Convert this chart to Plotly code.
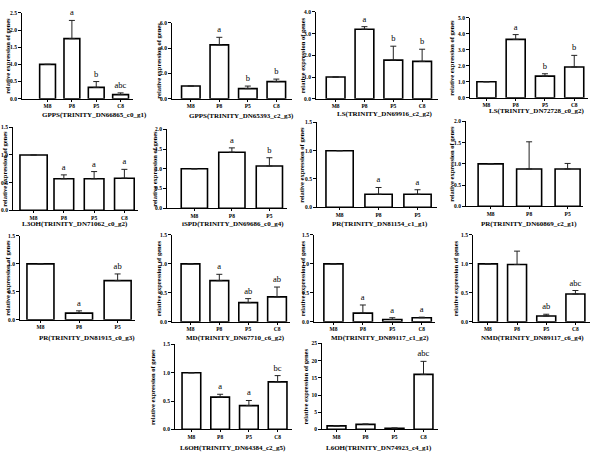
import plotly.graph_objects as go

cats4 = ["M8", "P8", "P5", "C8"]
cats3 = ["M8", "P8", "P5"]

titles = [
    "GPPS(TRINITY_DN66865_c0_g1)", "GPPS(TRINITY_DN65393_c2_g3)",
    "LS(TRINITY_DN69916_c2_g2)", "LS(TRINITY_DN72728_c0_g2)",
    "L3OH(TRINITY_DN71062_c0_g2)", "iSPD(TRINITY_DN69686_c0_g4)",
    "PR(TRINITY_DN81154_c1_g1)", "PR(TRINITY_DN60869_c2_g1)",
    "PR(TRINITY_DN81915_c0_g3)", "MD(TRINITY_DN67710_c6_g2)",
    "MD(TRINITY_DN89117_c1_g2)", "NMD(TRINITY_DN89117_c6_g4)",
    "L6OH(TRINITY_DN64384_c2_g5)", "L6OH(TRINITY_DN74923_c4_g1)",
]
categories = [cats4, cats4, cats4, cats4, cats4, cats3, cats3, cats3,
              cats3, cats4, cats4, cats4, cats4, cats4]
means = [
    [1.0, 1.75, 0.33, 0.12], [1.0, 4.25, 0.80, 1.35],
    [1.0, 3.20, 1.78, 1.72], [1.0, 3.65, 1.35, 1.92],
    [1.0, 0.57, 0.57, 0.58], [1.0, 1.42, 1.07],
    [1.0, 0.23, 0.23], [1.0, 0.88, 0.88],
    [1.0, 0.12, 0.70], [1.0, 0.71, 0.33, 0.43],
    [1.0, 0.15, 0.04, 0.07], [1.0, 0.99, 0.10, 0.48],
    [1.0, 0.57, 0.42, 0.84], [1.0, 1.45, 0.30, 16.0],
]
errors = [
    [0, 0.53, 0.17, 0.05], [0, 0.60, 0.20, 0.20],
    [0, 0.12, 0.64, 0.56], [0, 0.30, 0.15, 0.73],
    [0, 0.07, 0.13, 0.16], [0, 0.11, 0.21],
    [0, 0.12, 0.08], [0, 0.64, 0.13],
    [0, 0.04, 0.12], [0, 0.11, 0.07, 0.17],
    [0, 0.14, 0.03, 0.01], [0, 0.23, 0.03, 0.06],
    [0, 0.05, 0.09, 0.11], [0, 0.10, 0.10, 3.8],
]
letters = [
    ["", "a", "b", "abc"], ["", "a", "b", "b"],
    ["", "a", "b", "b"], ["", "a", "b", "b"],
    ["", "a", "a", "a"], ["", "a", "b"],
    ["", "a", "a"], ["", "", ""],
    ["", "a", "ab"], ["", "a", "ab", "ab"],
    ["", "a", "a", "a"], ["", "", "ab", "abc"],
    ["", "a", "a", "bc"], ["", "", "", "abc"],
]
ymax = [2.5, 6, 4, 5, 1.5, 2, 1.5, 2, 1.5, 1.5, 1.5, 1.5, 1.5, 25]
ydtick = [0.5, 2, 1, 1, 0.5, 0.5, 0.5, 0.5, 0.5, 0.5, 0.5, 0.5, 0.5, 5]
ylabel = "relative expression of genes"

# geometry in pixels: x0, x1, ytop, ybottom, xrange a, b
W, H = 600, 459
geom = [
    (22, 133, 10, 97, -1.05, 3.51), (172, 292, 20, 97, -0.66, 3.55),
    (316, 438, 9, 97, -0.68, 3.55), (470, 588, 15, 96, -0.56, 3.47),
    (13, 138, 126, 210, -0.68, 3.45), (167, 287, 128, 208, -0.73, 2.47),
    (317, 437, 121, 207, -0.58, 2.5), (466, 583, 120, 206, -0.64, 2.4),
    (20, 135, 236, 321, -0.53, 2.45), (172, 290, 235, 323, -0.64, 3.45),
    (314, 435, 235, 323, -0.66, 3.45), (473, 590, 235, 323, -0.51, 3.5),
    (175, 292, 346, 432, -0.57, 3.5), (322, 438, 345, 432, -0.5, 3.5),
]
title_pos = [(94, 113), (241, 114), (385, 112), (537, 109),
             (75, 224), (233, 224), (380, 224), (529, 224),
             (87, 339), (235, 339), (380, 339), (532, 339),
             (233, 451), (379, 451)]
ylab_x = [8, 159, 302, 452, 5, 155, 302, 452, 8, 158, 302, 455, 153, 305]
bar_widths = [0.65] * 14
bar_widths[5] = bar_widths[6] = bar_widths[8] = 0.7

FONT = "Liberation Serif"
fig = go.Figure()
layout = dict(width=W, height=H, margin=dict(l=0, r=0, t=0, b=0),
              plot_bgcolor="white", paper_bgcolor="white",
              showlegend=False, annotations=[], barmode="overlay")

for i in range(14):
    n = i + 1
    xa = "x" if n == 1 else f"x{n}"
    ya = "y" if n == 1 else f"y{n}"
    cats = categories[i]
    idx = list(range(len(cats)))
    w = [bar_widths[i]] * len(cats)
    if i == 4:
        w[0] = 0.9
    fig.add_trace(go.Bar(
        x=idx, y=means[i], width=w, xaxis=xa, yaxis=ya,
        marker=dict(color="white", line=dict(color="black", width=1.6)),
        error_y=dict(type="data", symmetric=False, array=errors[i],
                     arrayminus=[0] * len(cats), color="#222",
                     thickness=1, width=3),
    ))
    tops = [m + e for m, e in zip(means[i], errors[i])]
    fig.add_trace(go.Bar(
        x=idx, y=tops, width=w, xaxis=xa, yaxis=ya,
        marker=dict(color="rgba(0,0,0,0)", line=dict(width=0)),
        text=letters[i], textposition="outside", constraintext="none",
        cliponaxis=False, hoverinfo="skip",
        outsidetextfont=dict(family=FONT, size=8.5, color="black"),
    ))
    x0, x1, yt, yb, a, b = geom[i]
    axkey_x = "xaxis" if n == 1 else f"xaxis{n}"
    axkey_y = "yaxis" if n == 1 else f"yaxis{n}"
    layout[axkey_x] = dict(
        domain=[x0 / W, x1 / W], anchor=ya, range=[a, b],
        tickmode="array", tickvals=idx, ticktext=[f"<b>{c}</b>" for c in cats],
        ticks="outside", ticklen=2, tickwidth=1, tickcolor="black",
        showline=True, linecolor="black", linewidth=1, showgrid=False,
        zeroline=False, tickfont=dict(family=FONT, size=5.5, color="black"),
    )
    dec = ".0f" if ydtick[i] >= 5 else ".1f"
    layout[axkey_y] = dict(
        domain=[1 - yb / H, 1 - yt / H], anchor=xa, range=[0, ymax[i]],
        dtick=ydtick[i], tick0=0, tickformat=dec,
        ticks="outside", ticklen=3, tickwidth=1, tickcolor="black",
        showline=True, linecolor="black", linewidth=1, showgrid=False,
        zeroline=False, tickfont=dict(family=FONT, size=5.5, color="black", weight="bold"),
    )
    tx, ty = title_pos[i]
    layout["annotations"].append(dict(
        x=tx / W, y=1 - ty / H, xref="paper", yref="paper",
        text=f"<b>{titles[i]}</b>", showarrow=False,
        xanchor="center", yanchor="middle",
        font=dict(family=FONT, size=7, color="black"),
    ))
    layout["annotations"].append(dict(
        x=ylab_x[i] / W, y=1 - ((yt + yb) / 2) / H, xref="paper", yref="paper",
        text=f"<b>{ylabel}</b>", showarrow=False, textangle=-90,
        xanchor="center", yanchor="middle",
        font=dict(family=FONT, size=6.5, color="black"),
    ))

fig.update_layout(**layout)
fig.write_html("out.html")
